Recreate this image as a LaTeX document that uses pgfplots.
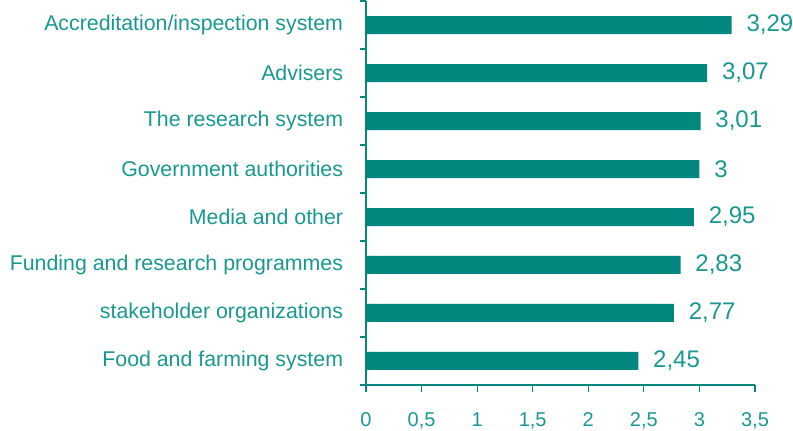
\documentclass[border=0pt]{standalone}
\usepackage{fontspec}
\setmainfont{Liberation Sans}
\usepackage{pgfplots}
\pgfplotsset{compat=1.18}
\definecolor{barc}{RGB}{3,135,127}
\definecolor{txt}{RGB}{24,152,144}
\begin{document}
\begin{tikzpicture}
\useasboundingbox (-274.5pt,-34.5pt) rectangle (320.25pt,288.75pt);
\begin{axis}[
 anchor=south west, at={(0,0)},
 scale only axis, width=291.75pt, height=288pt,
 xmin=0, xmax=3.5, ymin=-0.5, ymax=7.5,
 enlargelimits=false, clip=false,
 xbar, bar width=13.5pt,
 axis lines*=left,
 axis line style={barc, line width=0.8pt},
 /pgf/number format/assume math mode=true,
 /pgf/number format/use comma,
 xtick={0,0.5,...,3.5},
 ytick={0,...,7},
 yticklabels={Food and farming system, stakeholder organizations, Funding and research programmes, Media and other, Government authorities, The research system, Advisers, Accreditation/inspection system},
 minor ytick={-0.5,0.5,...,7.5},
 tick align=outside,
 tick style={barc, line width=0.8pt},
 major tick length=5pt,
 minor tick length=4.5pt,
 major y tick style={draw=none},
 xticklabel style={font=\fontsize{15}{15}\selectfont, color=txt, inner sep=0pt, anchor=north},
 xticklabel shift=15.5pt,
 yticklabel style={font=\fontsize{16}{16}\selectfont, color=txt, inner sep=0pt, anchor=east},
 yticklabel shift=12pt,
 nodes near coords={\pgfmathprintnumber{\pgfplotspointmeta}},
 every node near coord/.append style={font=\fontsize{18}{18}\selectfont, color=txt, anchor=west, inner sep=0pt, xshift=11pt},
]
\addplot[fill=barc, draw=none] coordinates {(2.45,0) (2.77,1) (2.83,2) (2.95,3) (3,4) (3.01,5) (3.07,6) (3.29,7)};
\end{axis}
\end{tikzpicture}
\end{document}
